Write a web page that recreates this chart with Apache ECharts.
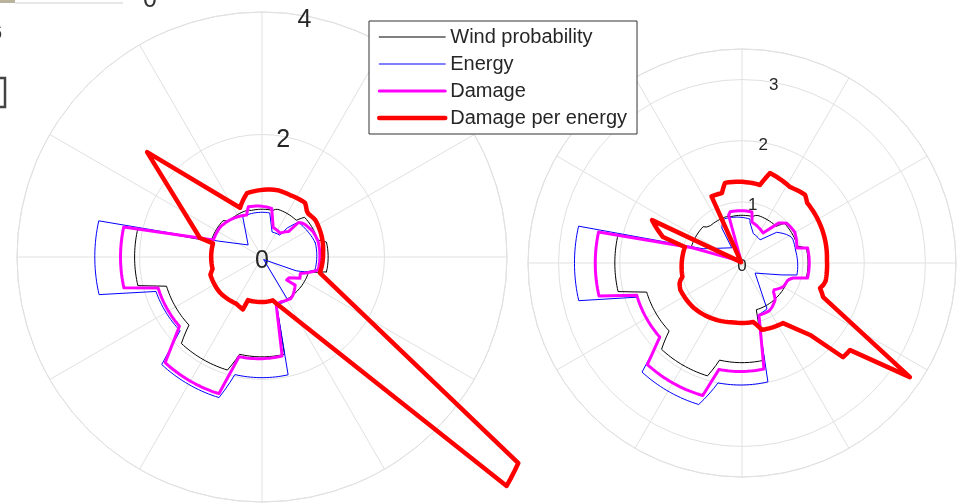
<!DOCTYPE html>
<html>
<head>
<meta charset="utf-8">
<script src="https://cdn.jsdelivr.net/npm/echarts@6/dist/echarts.min.js"></script>
<style>
  html, body { margin: 0; padding: 0; background: #ffffff; }
  #chart { width: 961px; height: 503px; }
</style>
</head>
<body>
<div id="chart"></div>
<script>
// Angles in degrees, counter-clockwise from east; radii in the rose's own units.

// Direction sectors (30 deg wide) and wind probability per sector, same for both roses
const sectorCenters = [0, 30, 60, 90, 120, 150, 180, 210, 240, 270, 300, 330];
const windProbability = [1.08, 0.95, 0.82, 0.78, 0.8, 0.87, 2.08, 1.63, 1.93, 1.63, 0.8, 0.8];

// Left rose: [angle, radius] vertices
const energyLeft = [
  [15, 0.9], [31, 0.85], [44, 0.82], [49, 0.63], [51, 0.46], [68, 0.44], [80, 0.73], [117, 0.73],
  [139, 0.3], [160, 0.76], [167.5, 2.73], [193, 2.73], [198, 1.82], [222, 1.8], [227, 2.4],
  [253, 2.4], [257, 1.97], [282.5, 1.97], [287, 0.82], [301, 0.82], [303, 0.05], [336, 0.05],
  [338, 0.6], [341, 0.74], [346, 0.89], [375, 0.9]
];
const damageLeft = [
  [15.2, 0.95], [26.3, 0.93], [39.2, 0.87], [43.4, 0.82], [43.9, 0.6], [52.8, 0.49], [72.3, 0.52],
  [78.7, 0.81], [105.2, 0.85], [110, 0.73], [131, 0.8], [144.5, 0.84], [160.8, 0.84], [167.8, 2.31],
  [192.6, 2.31], [196.6, 1.77], [220, 1.76], [227.5, 2.34], [252.5, 2.34], [257, 1.67], [281.5, 1.65],
  [286.5, 0.82], [292, 0.79], [305.7, 0.83], [319.7, 0.71], [317, 0.55], [325, 0.56], [330.7, 0.71],
  [336.7, 0.68], [343.5, 0.85], [347, 0.94], [375.2, 0.95]
];
const damagePerEnergyLeft = [
  [3.8, 1.0], [18.4, 1.03], [35, 1.06], [44.4, 1.03], [51.5, 1.13], [65.7, 1.11], [77, 1.12],
  [103.2, 1.07], [114, 0.88], [137.6, 2.54], [163, 1.06], [164.5, 0.83], [195, 0.83], [197.5, 0.89],
  [220, 0.9], [241, 0.87], [250, 0.91], [252, 0.74], [284, 0.73], [288, 0.81], [316.9, 5.47],
  [321.2, 5.37], [344.6, 0.98], [363.8, 1.0]
];

// Right rose: [angle, radius] vertices
const energyRight = [
  [13.3, 0.9], [26.6, 0.92], [31.3, 0.88], [43, 0.74], [52, 0.48], [71.6, 0.52], [78.7, 0.67],
  [79.7, 0.73], [113, 0.78], [120, 0.66], [124, 0.3], [160, 0.68], [167.3, 2.74], [193, 2.74],
  [198, 1.81], [222.5, 1.81], [227.5, 2.42], [253, 2.42], [258.7, 2.0], [282.3, 1.99], [287, 0.89],
  [300, 0.85], [322.4, 0.27], [343.3, 0.68], [347.7, 0.92], [373.3, 0.9]
];
const damageRight = [
  [12.8, 1.1], [15.3, 0.93], [30.3, 1.0], [41.6, 0.98], [48.8, 0.87], [55, 0.6], [76.3, 0.69],
  [79, 0.85], [103, 0.86], [107, 0.79], [118, 0.03], [150, 0.03], [163, 0.85], [167.8, 2.4],
  [193, 2.4], [197, 1.8], [222, 1.81], [227, 2.27], [253.5, 2.26], [257.8, 1.78], [281.7, 1.77],
  [288, 0.9], [301, 0.9], [312, 0.81], [319, 0.67], [330, 0.78], [340, 0.8], [343.6, 0.87],
  [347.2, 1.1], [372.8, 1.1]
];
const damagePerEnergyRight = [
  [2, 1.39], [15.5, 1.41], [29.5, 1.43], [42.7, 1.45], [47.2, 1.52], [57.7, 1.47], [72.7, 1.54],
  [77, 1.31], [91.4, 1.33], [102, 1.34], [106, 1.19], [116, 1.2], [135, 0.02], [154.5, 1.63],
  [161.8, 1.36], [164.3, 0.97], [193, 1.0], [197, 1.07], [203.5, 1.1], [222, 1.08], [246, 1.02],
  [261, 0.98], [280.5, 0.98], [283.6, 1.04], [286.6, 1.14], [304.3, 1.19], [313.4, 1.62],
  [317, 2.26], [321.1, 2.27], [325.8, 3.32], [337.2, 1.44], [342.2, 1.34], [346.5, 1.4], [362, 1.39]
];

// Radius tick settings of the two roses
const leftRadiusMax = 4, leftRadiusStep = 2;
const rightRadiusMax = 3.5, rightRadiusStep = 1;
// The curves may run past the outer ring, so they are plotted on a wider radial scale
const plotRadiusMax = 6;

const seriesNames = ['Wind probability', 'Energy', 'Damage', 'Damage per energy'];

// Sector values -> closed staircase outline (plateau +-13 deg, 4 deg ramps between sectors)
function staircase(centers, values) {
  const pts = [];
  centers.forEach((c, i) => {
    pts.push([c - 13, values[i]], [c + 13, values[i]]);
  });
  pts.push([centers[0] - 13 + 360, values[0]]);
  return pts;
}

// Vertices -> [radius, angle] points; near-constant radius runs follow the arc
function trace(vertices) {
  const out = [];
  const wrap = a => ((a % 360) + 360) % 360;
  for (let i = 0; i < vertices.length; i++) {
    const [a, r] = vertices[i];
    if (i > 0) {
      const [a0, r0] = vertices[i - 1];
      const span = a - a0;
      if (Math.abs(span) > 2 && Math.abs(r - r0) <= 0.2 * Math.max(r, r0)) {
        const n = Math.ceil(Math.abs(span) / 1.5);
        for (let k = 1; k < n; k++) {
          const t = k / n;
          out.push([r0 + (r - r0) * t, wrap(a0 + span * t)]);
        }
      }
    }
    out.push([r, wrap(a)]);
  }
  return out;
}

const gridColor = '#e1e1e1';
const textColor = '#262626';
const fontFamily = 'Liberation Sans, Arial, sans-serif';
const styles = [
  { color: '#000000', width: 1 },
  { color: '#0000ff', width: 1 },
  { color: '#ff00ff', width: 3 },
  { color: '#ff0000', width: 4.5 }
];

const leftCenter = [262, 257], rightCenter = [742, 263];
const leftRadius = 245, rightRadius = 214;
// Tick labels sit slightly below their ring
const leftLabelCenter = [262, 261], rightLabelCenter = [742, 266];

function roseSeries(polarIndex, outlines) {
  return outlines.map((pts, i) => ({
    type: 'line',
    name: seriesNames[i],
    coordinateSystem: 'polar',
    polarIndex: polarIndex,
    data: trace(pts),
    symbol: 'none',
    showSymbol: false,
    clip: false,
    silent: true,
    animation: false,
    z: 2 + i,
    itemStyle: { color: styles[i].color },
    lineStyle: { color: styles[i].color, width: styles[i].width, join: 'round', cap: 'round' }
  }));
}

const blackOutline = staircase(sectorCenters, windProbability);

function gridAngleAxis(polarIndex) {
  return {
    polarIndex, type: 'value', min: 0, max: 360, interval: 30,
    startAngle: 0, clockwise: false,
    axisLine: { show: true, lineStyle: { color: gridColor, width: 1 } },
    axisTick: { show: false }, axisLabel: { show: false },
    splitLine: { show: true, lineStyle: { color: gridColor, width: 1 } }
  };
}
function gridRadiusAxis(polarIndex, max, step) {
  return {
    polarIndex, type: 'value', min: 0, max, interval: step,
    axisLine: { show: false }, axisTick: { show: false }, axisLabel: { show: false },
    splitLine: { show: true, lineStyle: { color: gridColor, width: 1 } }
  };
}
// Tick labels run along the 80 deg direction
function labelAngleAxis(polarIndex) {
  return { polarIndex, type: 'value', min: 0, max: 360, startAngle: 80, clockwise: false, show: false };
}
function labelRadiusAxis(polarIndex, max, step, size) {
  return {
    polarIndex, type: 'value', min: 0, max, interval: step,
    axisLine: { show: false }, axisTick: { show: false }, splitLine: { show: false },
    axisLabel: {
      show: true, margin: 0, align: 'center', verticalAlign: 'middle',
      fontSize: size, color: textColor, fontFamily,
      formatter: v => (Math.abs(v / step - Math.round(v / step)) > 1e-9 ? '' : String(v))
    }
  };
}
// Hidden axes of the plotting polars
function plotAngleAxis(polarIndex) {
  return { polarIndex, type: 'value', min: 0, max: 360, startAngle: 0, clockwise: false, show: false };
}
function plotRadiusAxis(polarIndex) {
  return { polarIndex, type: 'value', min: 0, max: plotRadiusMax, show: false };
}

const chart = echarts.init(document.getElementById('chart'), null, { renderer: 'canvas' });
chart.setOption({
  backgroundColor: '#ffffff',
  animation: false,
  polar: [
    { center: leftCenter, radius: leftRadius },
    { center: rightCenter, radius: rightRadius },
    { center: leftLabelCenter, radius: leftRadius },
    { center: rightLabelCenter, radius: rightRadius },
    { center: leftCenter, radius: leftRadius * plotRadiusMax / leftRadiusMax },
    { center: rightCenter, radius: rightRadius * plotRadiusMax / rightRadiusMax }
  ],
  angleAxis: [
    gridAngleAxis(0), gridAngleAxis(1), labelAngleAxis(2), labelAngleAxis(3),
    plotAngleAxis(4), plotAngleAxis(5)
  ],
  radiusAxis: [
    gridRadiusAxis(0, leftRadiusMax, leftRadiusStep),
    gridRadiusAxis(1, rightRadiusMax, rightRadiusStep),
    labelRadiusAxis(2, leftRadiusMax, leftRadiusStep, 25),
    labelRadiusAxis(3, rightRadiusMax, rightRadiusStep, 17),
    plotRadiusAxis(4), plotRadiusAxis(5)
  ],
  legend: {
    data: seriesNames,
    orient: 'vertical',
    left: 369, top: 21,
    padding: [6, 10, 6, 8],
    itemWidth: 66, itemHeight: 14, itemGap: 7,
    backgroundColor: '#ffffff',
    borderColor: '#333333', borderWidth: 1,
    itemStyle: { opacity: 0 },
    lineStyle: { width: 'inherit' },
    textStyle: { fontSize: 20, color: textColor, fontFamily },
    selectedMode: false,
    z: 10
  },
  graphic: [
    { type: 'rect', shape: { x: 0, y: 0, width: 15, height: 3 }, style: { fill: '#b9b29c' } },
    { type: 'line', shape: { x1: 15, y1: 3, x2: 123, y2: 3 }, style: { stroke: '#cfcfcf', lineWidth: 1 } },
    { type: 'text', x: 150, y: 13, style: { text: '0', fontSize: 25, fill: '#333333', align: 'center', verticalAlign: 'bottom', fontFamily } },
    { type: 'text', x: -9, y: 33, style: { text: '6', fontSize: 20, fill: '#333333', verticalAlign: 'middle', fontFamily } },
    { type: 'polyline', shape: { points: [[0, 78], [5, 78], [5, 107], [0, 107]] }, style: { stroke: '#444444', lineWidth: 2.5, fill: null } }
  ],
  series: [].concat(
    roseSeries(4, [blackOutline, energyLeft, damageLeft, damagePerEnergyLeft]),
    roseSeries(5, [blackOutline, energyRight, damageRight, damagePerEnergyRight])
  )
});
</script>
</body>
</html>
